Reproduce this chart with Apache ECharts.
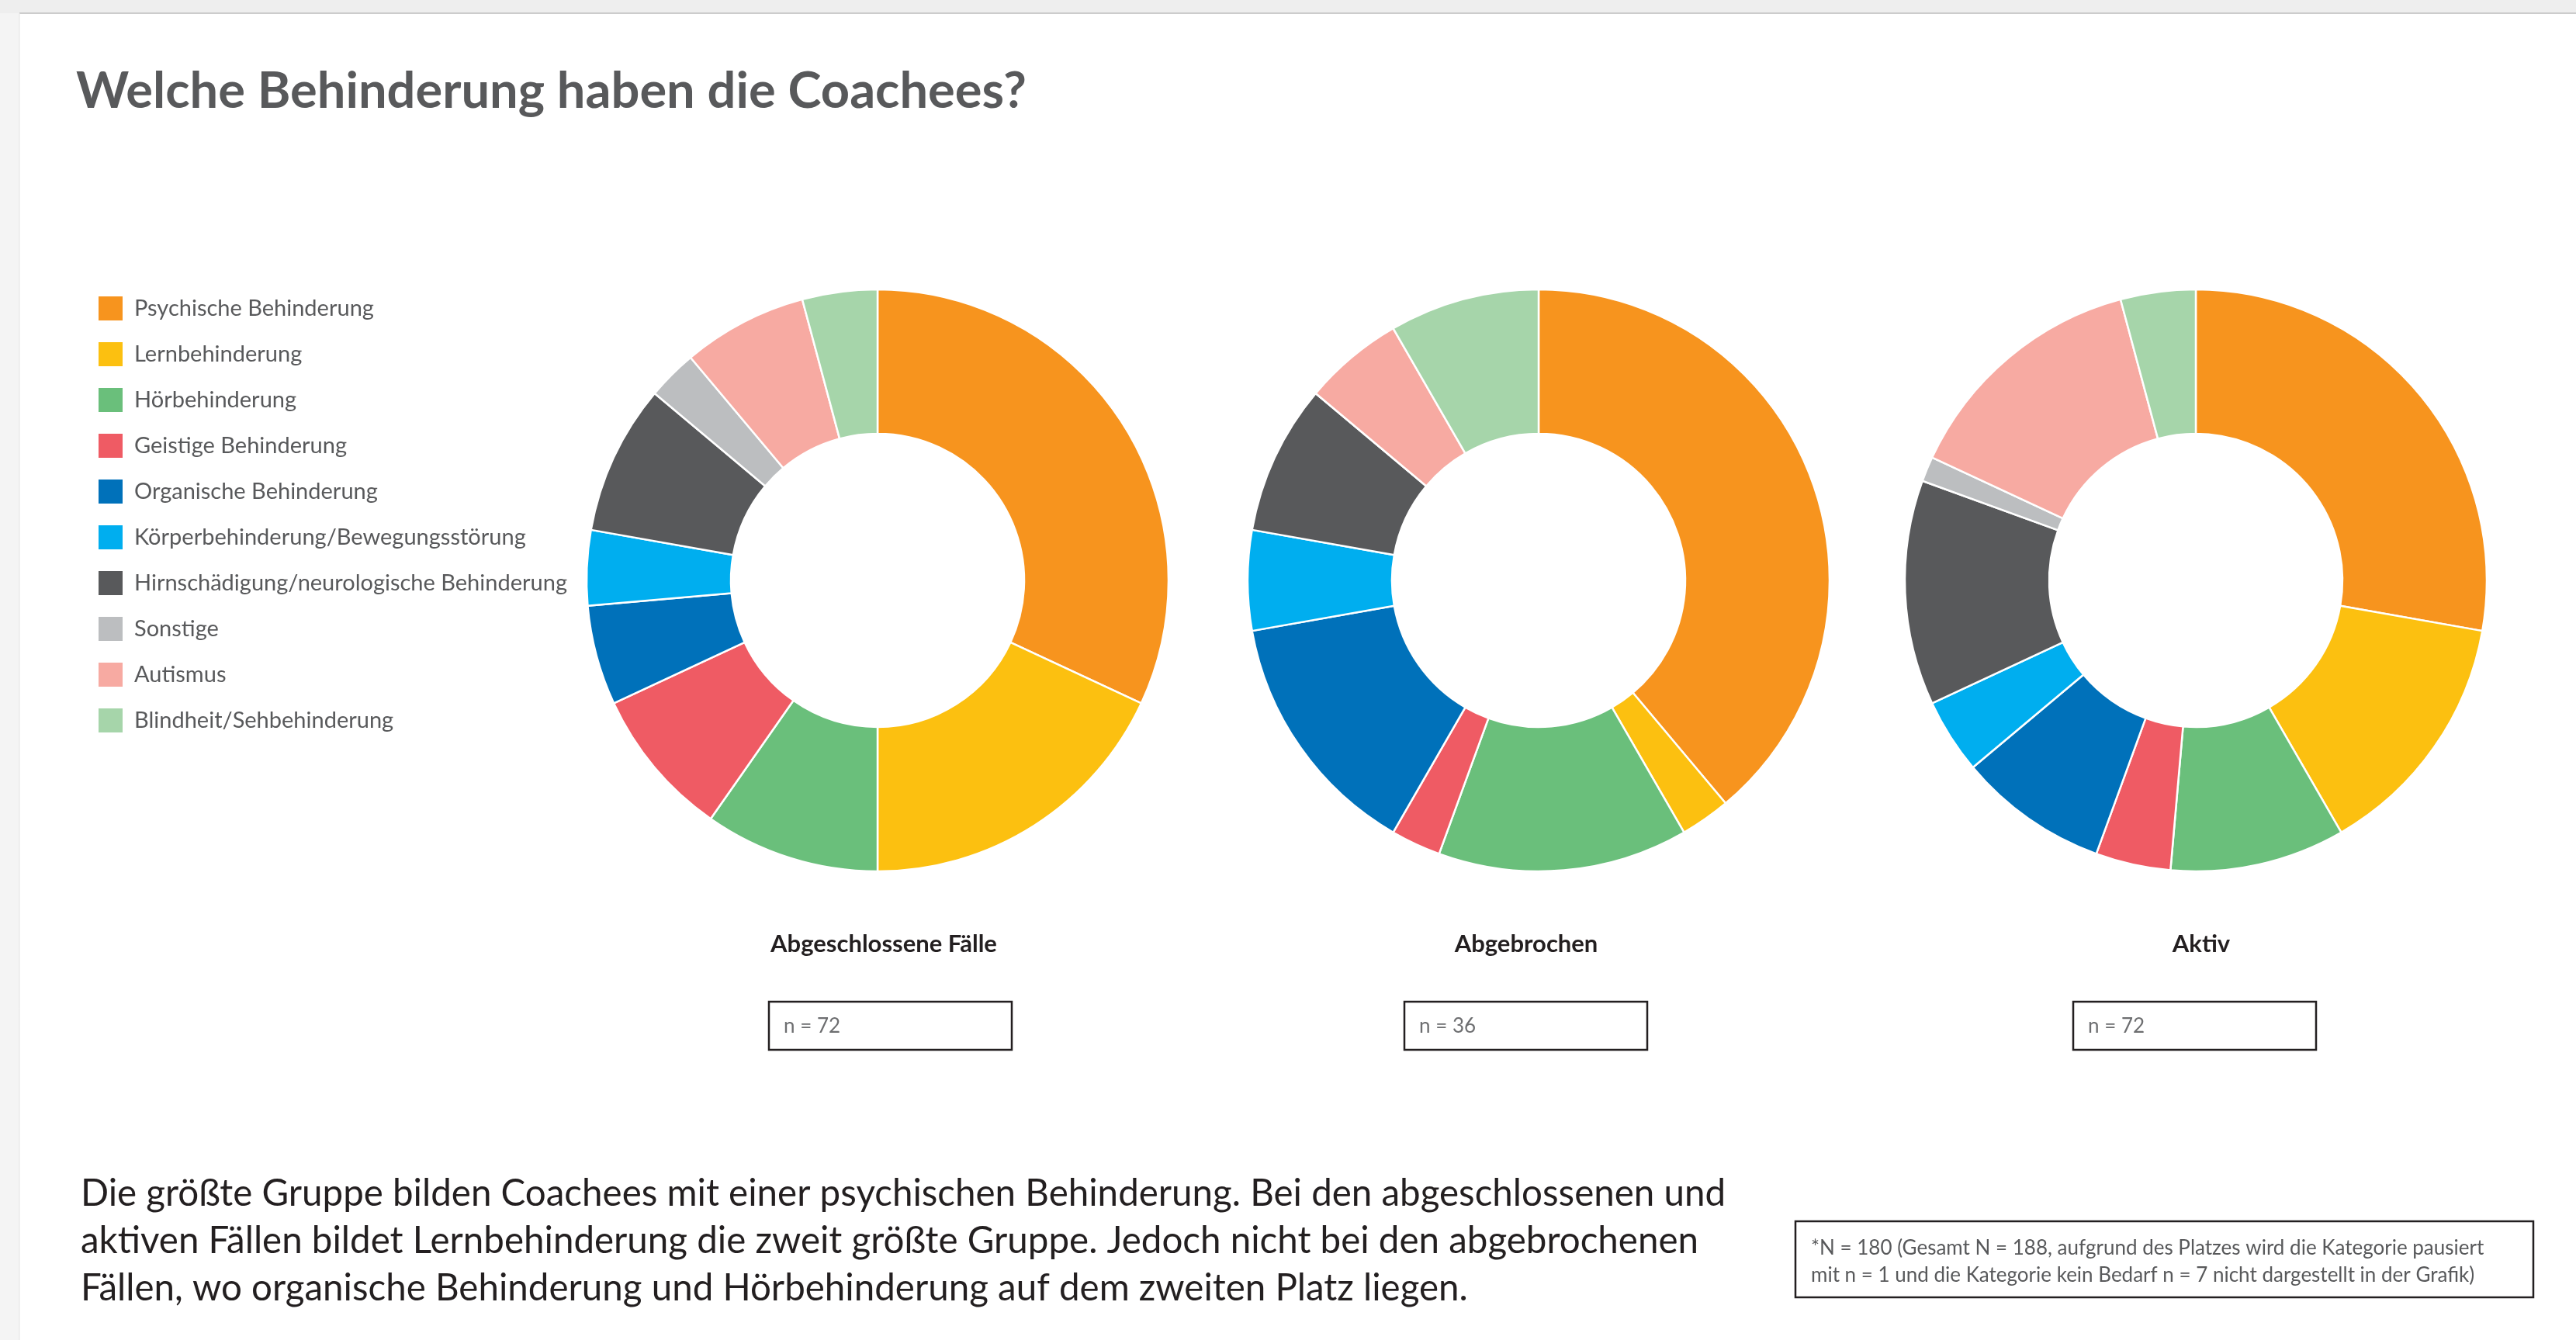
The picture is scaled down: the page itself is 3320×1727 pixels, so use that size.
<!DOCTYPE html>
<html>
<head>
<meta charset="utf-8">
<title>Welche Behinderung haben die Coachees?</title>
<script src="https://cdn.jsdelivr.net/npm/echarts@6/dist/echarts.min.js"></script>
<style>
  html, body { margin: 0; padding: 0; background: #fff; }
  #chart { width: 3320px; height: 1727px; }
</style>
</head>
<body>
<div id="chart"></div>
<script>
// Kategorien (Reihenfolge im Uhrzeigersinn ab 12 Uhr)
var categories = [
    "Psychische Behinderung",
    "Lernbehinderung",
    "Hörbehinderung",
    "Geistige Behinderung",
    "Organische Behinderung",
    "Körperbehinderung/Bewegungsstörung",
    "Hirnschädigung/neurologische Behinderung",
    "Sonstige",
    "Autismus",
    "Blindheit/Sehbehinderung"
];
var colors = ["#F7941E", "#FCC010", "#6ABF7B", "#EF5B64", "#0071BA",
              "#00AEEF", "#58595B", "#BCBEC0", "#F7AAA2", "#A6D5AA"];

// Werte je Gruppe (Anzahl Coachees)
var abgeschlossen = [23, 13, 7, 6, 4, 3, 6, 2, 5, 3];
var abgebrochen   = [14, 1, 5, 1, 5, 2, 3, 0, 2, 3];
var aktiv         = [20, 10, 7, 3, 6, 3, 9, 1, 10, 3];

var groupNames = ["Abgeschlossene Fälle", "Abgebrochen", "Aktiv"];
var groupN = [72, 36, 72];

var titleText = "Welche Behinderung haben die Coachees?";
var bodyLines = [
    "Die größte Gruppe bilden Coachees mit einer psychischen Behinderung. Bei den abgeschlossenen und",
    "aktiven Fällen bildet Lernbehinderung die zweit größte Gruppe. Jedoch nicht bei den abgebrochenen",
    "Fällen, wo organische Behinderung und Hörbehinderung auf dem zweiten Platz liegen."
];
var noteLines = [
    "*N = 180 (Gesamt N = 188, aufgrund des Platzes wird die Kategorie pausiert",
    "mit n = 1 und die Kategorie kein Bedarf n = 7 nicht dargestellt in der Grafik)"
];

// Layout
var centersX = [1131, 1983, 2830];
var labelX = [1139, 1967, 2837];
var boxX = [991, 1810, 2672];
var centerY = 748;

var groups = [abgeschlossen, abgebrochen, aktiv];

var series = groups.map(function (vals, i) {
    return {
        type: 'pie',
        name: groupNames[i],
        center: [centersX[i], centerY],
        radius: [189, 375],
        startAngle: 90,
        clockwise: true,
        avoidLabelOverlap: false,
        label: {show: false},
        labelLine: {show: false},
        emphasis: {disabled: true},
        itemStyle: {borderColor: '#ffffff', borderWidth: 2.5},
        data: vals.map(function (v, k) {
            return {name: categories[k], value: v};
        })
    };
});

var graphics = [
    {type: 'rect', shape: {x: 0, y: 0, width: 3320, height: 17}, style: {fill: '#eeeeee'}, z: -10},
    {type: 'rect', shape: {x: 0, y: 17, width: 25, height: 1710}, style: {fill: '#f4f4f4'}, z: -10},
    {type: 'line', shape: {x1: 25, y1: 17, x2: 3320, y2: 17}, style: {stroke: '#cccccc', lineWidth: 2}, z: -9},
    {type: 'line', shape: {x1: 25, y1: 17, x2: 25, y2: 1727}, style: {stroke: '#e4e4e4', lineWidth: 1}, z: -9}
];

groupNames.forEach(function (name, i) {
    graphics.push({
        type: 'text', x: labelX[i], y: 1217,
        style: {text: name, font: 'bold 31px Lato', fill: '#231f20',
                textAlign: 'center', textVerticalAlign: 'middle', align: 'center', verticalAlign: 'middle'}
    });
    graphics.push({
        type: 'rect', shape: {x: boxX[i], y: 1291, width: 313, height: 62},
        style: {fill: 'none', stroke: '#231f20', lineWidth: 2.5}
    });
    graphics.push({
        type: 'text', x: boxX[i] + 19, y: 1323,
        style: {text: 'n = ' + groupN[i], font: '26px Lato', fill: '#6d6e70',
                textVerticalAlign: 'middle', verticalAlign: 'middle'}
    });
});

bodyLines.forEach(function (line, i) {
    graphics.push({
        type: 'text', x: 104, y: 1539 + i * 61,
        style: {text: line, font: '47.5px Lato', fill: '#231f20',
                textVerticalAlign: 'middle', verticalAlign: 'middle'}
    });
});

graphics.push({
    type: 'rect', shape: {x: 2314, y: 1574, width: 951, height: 98},
    style: {fill: 'none', stroke: '#231f20', lineWidth: 2.5}
});
noteLines.forEach(function (line, i) {
    graphics.push({
        type: 'text', x: 2334, y: 1609 + i * 35,
        style: {text: line, font: '26px Lato', fill: '#58595B',
                textVerticalAlign: 'middle', verticalAlign: 'middle'}
    });
});

var chart = echarts.init(document.getElementById('chart'), null, {renderer: 'canvas'});
chart.setOption({
    animation: false,
    color: colors,
    title: {
        text: titleText,
        left: 98,
        top: 86,
        padding: 0,
        textStyle: {fontFamily: 'Lato', fontWeight: 'bold', fontSize: 65, color: '#58595B'}
    },
    legend: {
        orient: 'vertical',
        left: 125,
        top: 380,
        padding: 0,
        icon: 'rect',
        itemWidth: 33,
        itemHeight: 33,
        itemGap: 24,
        selectedMode: false,
        data: categories,
        textStyle: {fontFamily: 'Lato', fontSize: 29, color: '#58595B', padding: [0, 0, 0, 9]}
    },
    graphic: graphics,
    series: series
});
</script>
</body>
</html>
